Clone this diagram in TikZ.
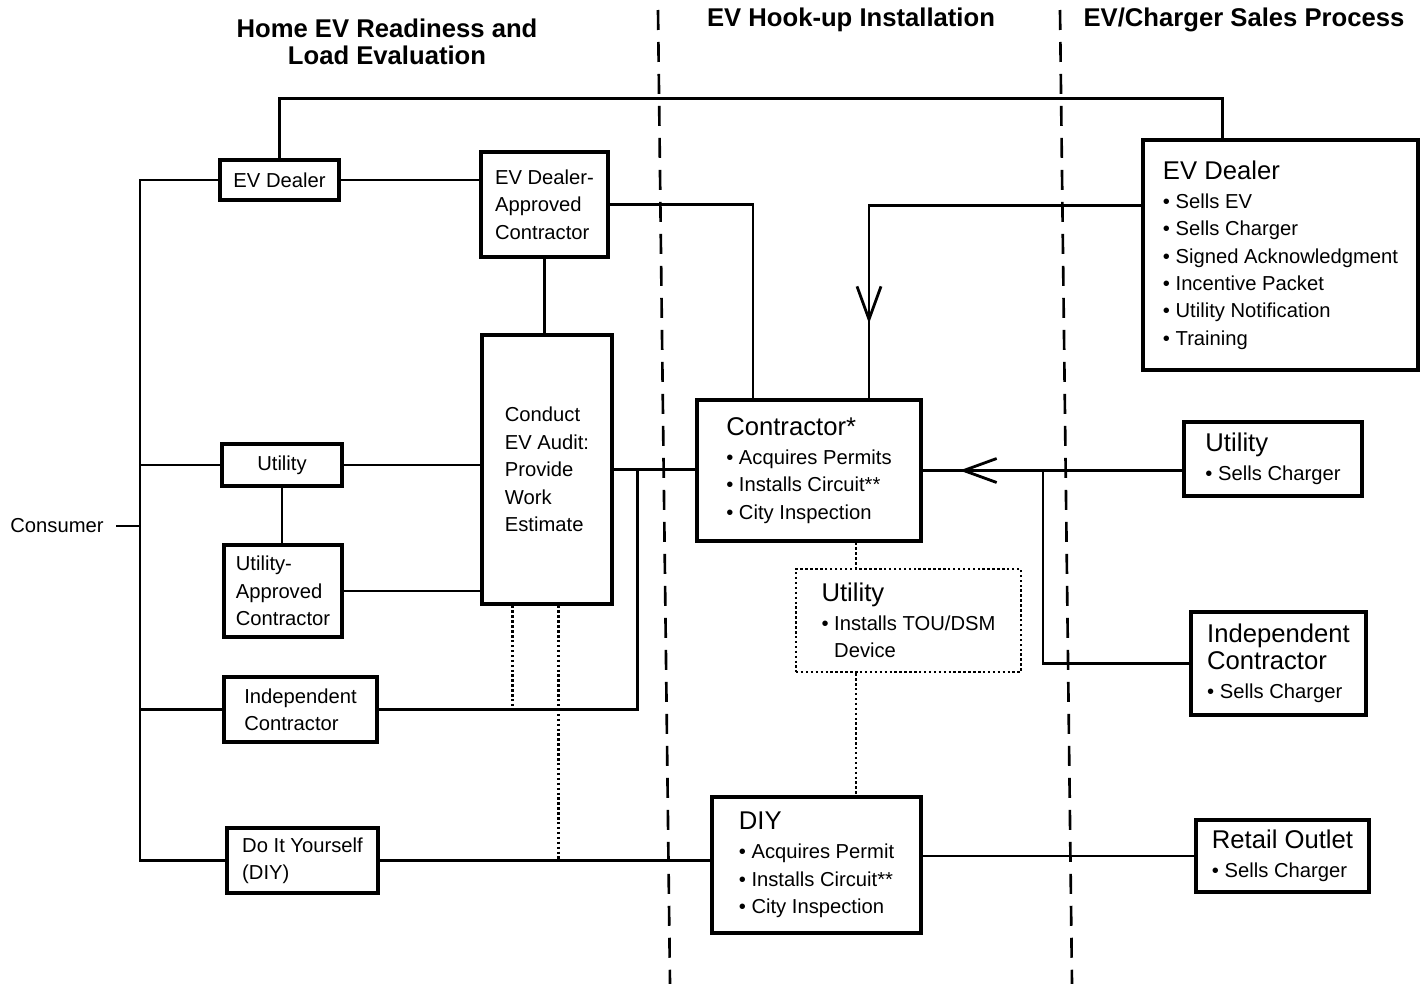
\documentclass[tikz,border=0pt]{standalone}
\usepackage{fontspec}
\setmainfont{Liberation Sans}
\usetikzlibrary{arrows.meta,positioning,calc,decorations.markings}
\newcommand{\bodyfont}{\fontsize{11.5}{15.6}\selectfont}
\newcommand{\hdrfont}{\fontsize{14.6}{17}\selectfont}
\tikzstyle{box} = [draw, rectangle, line width=1.8pt, align=left, inner sep=0pt, font=\bodyfont]
\tikzstyle{dotbox} = [box, line width=1.4pt, dash pattern=on 1.4pt off 1.4pt]
\tikzstyle{title} = [align=center, font=\fontsize{14.6}{15.6}\selectfont\bfseries]
\tikzstyle{link} = [draw, line width=1.6pt]
\tikzstyle{dotlink} = [draw, line width=1.4pt, dash pattern=on 1.4pt off 1.4pt]
\tikzstyle{divider} = [draw, line width=1.5pt, dash pattern=on 0.4cm off 0.24cm]
\tikzset{midarrow/.style={postaction={decorate}, decoration={markings, mark=at position #1 with {\arrow{Straight Barb[length=6.6mm, width=4.8mm]}}}}}

\begin{document}
\begin{tikzpicture}[x=0.02cm, y=-0.02cm]
    \useasboundingbox (0,0) rectangle (1427,984);

    \node [title] (t1) at (387,42) {Home EV Readiness and\\Load Evaluation};
    \node [title] (t2) at (851,20) {EV Hook-up Installation};
    \node [title] (t3) at (1244,20) {EV/Charger Sales Process};

    \draw [divider] (658,10) -- (670,984);
    \draw [divider] (1060,10) -- (1072,984);

    % consumer side
    \node [font=\bodyfont, inner xsep=0.25cm] (consumer) at (57,526) {Consumer};
    \node [box, minimum width=2.38cm, minimum height=0.8cm] (evd) at (279.5,180) {EV Dealer};
    \node [box, minimum width=2.54cm, minimum height=2.1cm] (evdac) at (544.5,204.5) {EV Dealer-\\Approved\\Contractor};
    \node [box, minimum width=2.6cm, minimum height=5.38cm] (audit) at (547,469.5) {Conduct\\EV Audit:\\Provide\\Work\\Estimate};
    \node [box, minimum width=2.4cm, minimum height=0.84cm] (util) at (282,465) {Utility};
    \node [box, minimum width=2.36cm, minimum height=1.84cm] (uac) at (283,591) {Utility-\\Approved\\Contractor};
    \node [box, minimum width=3.06cm, minimum height=1.3cm] (indc) at (300.5,709.5) {Independent\\Contractor};
    \node [box, minimum width=3.02cm, minimum height=1.3cm] (diy) at (302.5,860.5) {Do It Yourself\\(DIY)};

    % installation
    \node [box, minimum width=4.48cm, minimum height=2.82cm] (contr) at (809,470.5) {{\hdrfont Contractor*}\\[1pt]• Acquires Permits\\• Installs Circuit**\\• City Inspection};
    \node [dotbox, minimum width=4.5cm, minimum height=2.06cm] (utou) at (908.5,620.5) {{\hdrfont Utility}\\[1pt]• Installs TOU/DSM\\\phantom{• }Device};
    \node [box, minimum width=4.18cm, minimum height=2.72cm] (diyb) at (816.5,865) {{\hdrfont DIY}\\[1pt]• Acquires Permit\\• Installs Circuit**\\• City Inspection};

    % sales
    \node [box, minimum width=5.5cm, minimum height=4.6cm] (dealer) at (1280.5,255) {{\hdrfont EV Dealer}\\[1pt]• Sells EV\\• Sells Charger\\• Signed Acknowledgment\\• Incentive Packet\\• Utility Notification\\• Training};
    \node [box, minimum width=3.56cm, minimum height=1.48cm] (utilr) at (1273,459) {{\hdrfont Utility}\\[1pt]• Sells Charger};
    \node [box, minimum width=3.5cm, minimum height=2.06cm] (indr) at (1278.5,663.5) {{\hdrfont Independent}\\{\hdrfont Contractor}\\[1pt]• Sells Charger};
    \node [box, minimum width=3.46cm, minimum height=1.44cm] (retail) at (1282.5,856) {{\hdrfont Retail Outlet}\\[1pt]• Sells Charger};

    \coordinate (trunk) at (140,0);
    \coordinate (jn) at ($(audit.east)+(24,0)$);
    \coordinate (jr) at (1043,0);
    \coordinate (d1) at ($(audit.south west)+(32,0)$);
    \coordinate (d2) at ($(audit.south west)+(78,0)$);
    \coordinate (dv) at ($(contr.south)+(47,0)$);

    \draw [link] (evd.west) -| (trunk |- diy.west) -- (diy.west);
    \draw [link] (consumer.east) -- (consumer.east -| trunk);
    \draw [link] (util.west) -- (util.west -| trunk);
    \draw [link] (indc.west) -- (indc.west -| trunk);

    \draw [link] (evd.north) |- ($(dealer.north)+(-58,-40)$) -- ($(dealer.north)+(-58,0)$);
    \draw [link] (evd.east) -- (evd.east -| evdac.west);
    \draw [link] (evdac.south) -- (evdac.south |- audit.north);
    \draw [link] (evdac.east) -| ($(contr.north)+(-56,0)$);
    \draw [link] (util.east) -- (util.east -| audit.west);
    \draw [link] (util.south) -- (util.south |- uac.north);
    \draw [link] (uac.east) -- (uac.east -| audit.west);
    \draw [link] (audit.east) -- (audit.east -| contr.west);
    \draw [link] (jn) |- (indc.east);
    \draw [dotlink] (d1) -- (d1 |- indc.east);
    \draw [dotlink] (d2) -- (d2 |- diy.east);
    \draw [link] (diy.east) -- (diy.east -| diyb.west);

    \draw [link, midarrow=-1.5cm] ($(dealer.north west)+(0,67)$) -| ($(contr.north)+(60,0)$);
    \draw [link, midarrow=-0.74cm] (contr.east -| utilr.west) -- (contr.east);
    \draw [link] (contr.east -| jr) |- (indr.west);
    \draw [dotlink] (dv) -- (dv |- utou.north);
    \draw [dotlink] (dv |- utou.south) -- (dv |- diyb.north);
    \draw [link] (retail.west) -- (retail.west -| diyb.east);
\end{tikzpicture}
\end{document}
